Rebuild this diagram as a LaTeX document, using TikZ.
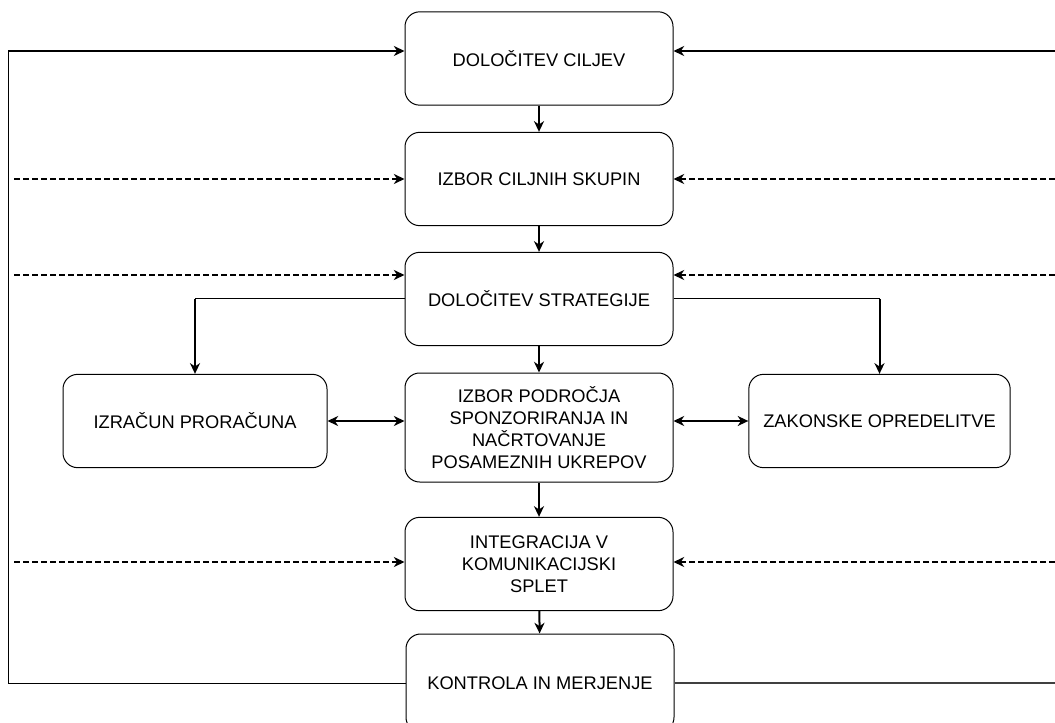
\documentclass[tikz,border=0pt]{standalone}
\usepackage{fontspec}
\setmainfont{Liberation Sans}
\usetikzlibrary{arrows.meta}

\begin{document}
\begin{tikzpicture}[x=0.75pt,y=-0.75pt,
		korak/.style={draw,line width=0.75pt,rounded corners=11pt,minimum width=201pt,minimum height=70pt,align=center,inner sep=2pt,font=\fontsize{13.7}{16.5}\selectfont},
		puscica/.style={-{Stealth[length=8pt,width=7.5pt,inset=2.5pt]},line width=1.5pt},
		dvojna/.style={{Stealth[length=8pt,width=7.5pt,inset=2.5pt]}-{Stealth[length=8pt,width=7.5pt,inset=2.5pt]},line width=1.5pt},
		crtkana/.style={puscica,dash pattern=on 4.5pt off 2.25pt},
		tanka/.style={line width=0.75pt}]
		\useasboundingbox (0,0) rectangle (1055,723);
		\node[korak] (cilji) at (539,58.5) {DOLOČITEV CILJEV};
		\node[korak] (skupine) at (539,179) {IZBOR CILJNIH SKUPIN};
		\node[korak] (strategija) at (539,299) {DOLOČITEV STRATEGIJE};
		\node[korak,minimum height=81.75pt] (podrocje) at (539,427.5) {IZBOR PODROČJA\\SPONZORIRANJA IN\\NAČRTOVANJE\\POSAMEZNIH UKREPOV};
		\node[korak] (integracija) at (539,564) {INTEGRACIJA V\\KOMUNIKACIJSKI\\SPLET};
		\node[korak,minimum height=73.5pt] (kontrola) at (540,683) {KONTROLA IN MERJENJE};
		\node[korak,minimum width=198pt] (izracun) at (195,421) {IZRAČUN PRORAČUNA};
		\node[korak,minimum width=196pt] (zakonske) at (879.5,421) {ZAKONSKE OPREDELITVE};
		\coordinate (zankaL) at (8,51);
		\coordinate (zankaLD) at (8,683);
		\coordinate (zankaD) at (1055,51);
		\coordinate (zankaDD) at (1055,683);
		\draw[puscica] (cilji) -- (skupine);
		\draw[puscica] (skupine) -- (strategija);
		\draw[puscica] (strategija) -- (podrocje);
		\draw[puscica] (podrocje) -- (integracija);
		\draw[puscica] (integracija) -- (kontrola);
		\draw[tanka] (kontrola.west) -- (zankaLD) -- (zankaL);
		\draw[puscica] (zankaL) -- (cilji.west |- zankaL);
		\draw[puscica] (zankaD) -- (cilji.east |- zankaD);
		\draw[line width=1pt,black!75] (kontrola.east) -- (zankaDD);
		\draw[tanka] (strategija.west) -- (izracun.north |- strategija.west);
		\draw[puscica] (izracun.north |- strategija.west) -- (izracun.north);
		\draw[tanka] (strategija.east) -- (zakonske.north |- strategija.east);
		\draw[puscica] (zakonske.north |- strategija.east) -- (zakonske.north);
		\draw[dvojna] (izracun.east) -- (podrocje.west |- izracun.east);
		\draw[dvojna] (podrocje.east |- zakonske.west) -- (zakonske.west);
		\foreach \n/\y in {skupine/179,strategija/275,integracija/562} {
			\draw[crtkana] (14,\y) -- (\n.west |- 0,\y);
			\draw[crtkana] (1055,\y) -- (\n.east |- 0,\y);
		}
	\end{tikzpicture}
\end{document}
